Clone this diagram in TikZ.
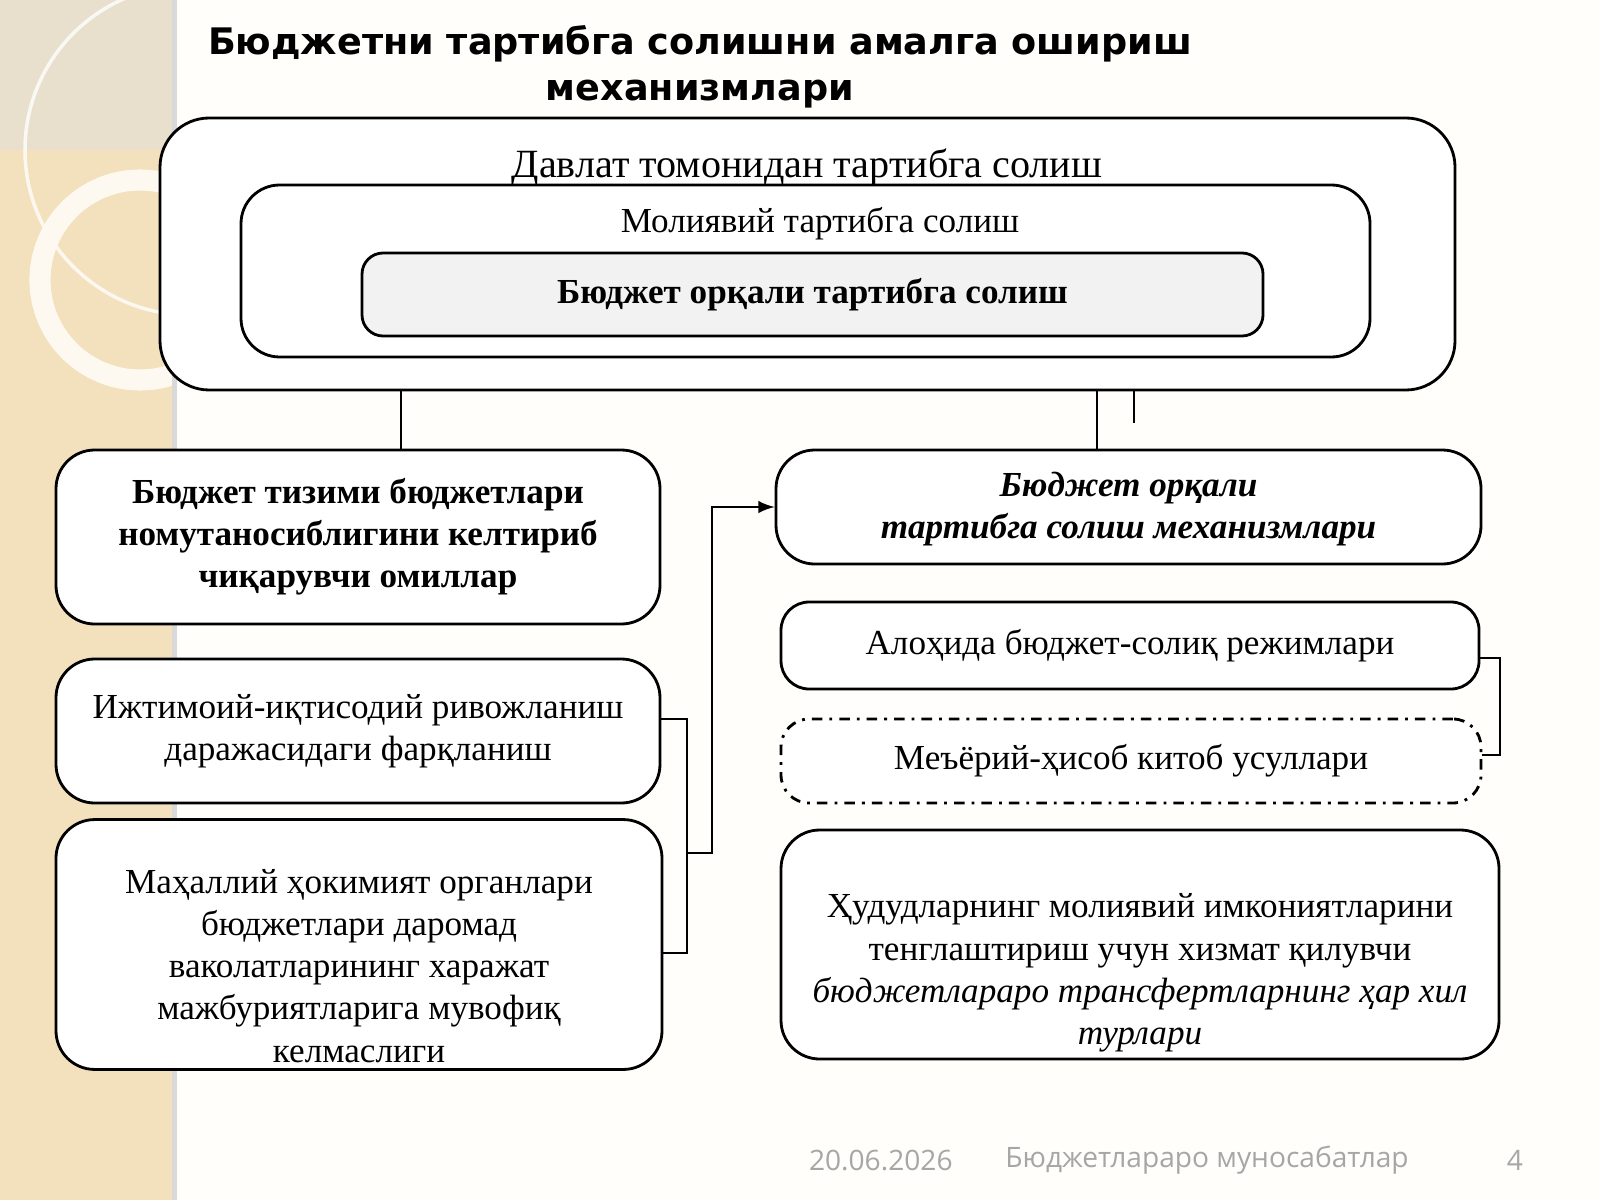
\documentclass[tikz,border=0pt]{standalone}
\usepackage{fontspec}
\setmainfont{Liberation Serif}
\newfontfamily\titlefont{DejaVu Sans}
\newfontfamily\footfont{Open Sans}
\usetikzlibrary{positioning}
\definecolor{strip}{HTML}{F3E0BC}
\definecolor{paper}{HTML}{FFFEFA}
\begin{document}
\begin{tikzpicture}[x=1cm,y=1cm,
  box/.style={draw, thick, rounded corners=11pt, fill=white, inner sep=2pt},
  txt/.style={font=\fontsize{10}{12}\selectfont, align=center},
  link/.style={draw, semithick}]
\useasboundingbox (0,0) rectangle (16,12);
\fill[paper] (0,0) rectangle (16,12);
% left strip with pale rings
\begin{scope}
\clip (0,0) rectangle (1.75,12);
\fill[strip] (0,0) rectangle (1.75,12);
\fill[gray!25,opacity=.5] (0,12) rectangle (1.75,10.5);
\draw[white,opacity=.8,line width=1pt] (1.9,10.5) circle (1.65);
\draw[white!80!strip,line width=6pt] (1.4,9.2) circle (1.0);
\end{scope}
\fill[gray!30] (1.72,0) rectangle (1.77,12);
% title
\node (title) [font=\titlefont\bfseries\fontsize{10.4}{13.2}\selectfont, align=center] at (7.0,11.33)
  {Бюджетни тартибга солишни амалга ошириш\\механизмлари};
% nested boxes
\node (outer) [box, rounded corners=14pt, minimum width=12.95cm, minimum height=2.72cm] at (8.075,9.46) {};
\node (davlat) [font=\fontsize{11.4}{14}\selectfont] at (8.07,10.33) {Давлат томонидан тартибга солиш};
\node (mid) [box, minimum width=11.29cm, minimum height=1.72cm] at (8.055,9.29) {};
\node (moliya) [txt] at (8.2,9.76) {Молиявий тартибга солиш};
\node (inner) [box, rounded corners=6pt, fill=gray!10, minimum width=9.01cm, minimum height=0.83cm] at (8.125,9.055)
  {\fontsize{10}{12}\selectfont\bfseries\raisebox{2pt}{Бюджет орқали тартибга солиш}};
% left column
\node (omil) [box, minimum width=6.04cm, minimum height=1.74cm, txt, font=\fontsize{10}{12}\selectfont\bfseries] at (3.58,6.63)
  {Бюджет тизими бюджетлари\\номутаносиблигини келтириб\\чиқарувчи омиллар};
\node (ijtimoiy) [box, minimum width=6.04cm, minimum height=1.44cm, txt] at (3.58,4.69)
  {Ижтимоий-иқтисодий ривожланиш\\даражасидаги фарқланиш};
\node (mahalliy) [box, minimum width=6.06cm, minimum height=2.23cm, txt] at (3.59,2.555)
  {\mbox{}\\[7pt]Маҳаллий ҳокимият органлари\\бюджетлари даромад\\ваколатларининг харажат\\мажбуриятларига мувофиқ\\келмаслиги};
% right column
\node (mexanizm) [box, minimum width=7.05cm, minimum height=1.14cm, txt, font=\fontsize{10}{12}\selectfont\bfseries\itshape] at (11.285,6.93)
  {\mbox{}\\[-4pt]Бюджет орқали\\тартибга солиш механизмлари};
\node (rejim) [box, rounded corners=8pt, minimum width=6.98cm, minimum height=0.87cm, txt] at (11.3,5.545)
  {\raisebox{2pt}{Алоҳида бюджет-солиқ режимлари}};
\node (meyor) [box, rounded corners=8pt, dash dot, minimum width=7.0cm, minimum height=0.84cm, txt] at (11.31,4.39)
  {Меъёрий-ҳисоб китоб усуллари};
\node (transfer) [box, minimum width=7.18cm, minimum height=2.23cm, txt] at (11.4,2.555)
  {\mbox{}\\[11pt]Ҳудудларнинг молиявий имкониятларини\\тенглаштириш учун хизмат қилувчи\\\itshape бюджетлараро трансфертларнинг ҳар хил\\\itshape турлари};
% connectors
\draw[link] (outer.south -| 4.01,0) -- (omil.north -| 4.01,0);
\draw[link] (outer.south -| 10.97,0) -- (mexanizm.north -| 10.97,0);
\coordinate (tick) at (11.34,7.77);
\draw[link] (outer.south -| tick) -- (tick);
\coordinate (lb) at (6.87,4.81);
\draw[link] (ijtimoiy.east |- lb) -- (lb) -- (lb |- 0,2.47) -- (mahalliy.east |- 0,2.47);
\coordinate (lm) at (6.87,3.47);
\coordinate (up) at (7.12,3.47);
\draw[link,-latex] (lm) -- (up) -- (up |- mexanizm.west) -- (mexanizm.west);
\coordinate (rb) at (15.0,5.42);
\draw[link] (rejim.east |- rb) -- (rb) -- (rb |- 0,4.45) -- (meyor.east |- 0,4.45);
% footer
\node (date) [anchor=east, font=\footfont\fontsize{8}{10}\selectfont, text=gray!70] at (9.65,0.40) {20.06.2026};
\node (topic) [anchor=west, font=\footfont\fontsize{8}{10}\selectfont, text=gray!70] at (9.93,0.40) {Бюджетлараро муносабатлар};
\node (page) [font=\footfont\fontsize{8}{10}\selectfont, text=gray!70] at (15.15,0.40) {4};
\end{tikzpicture}
\end{document}
